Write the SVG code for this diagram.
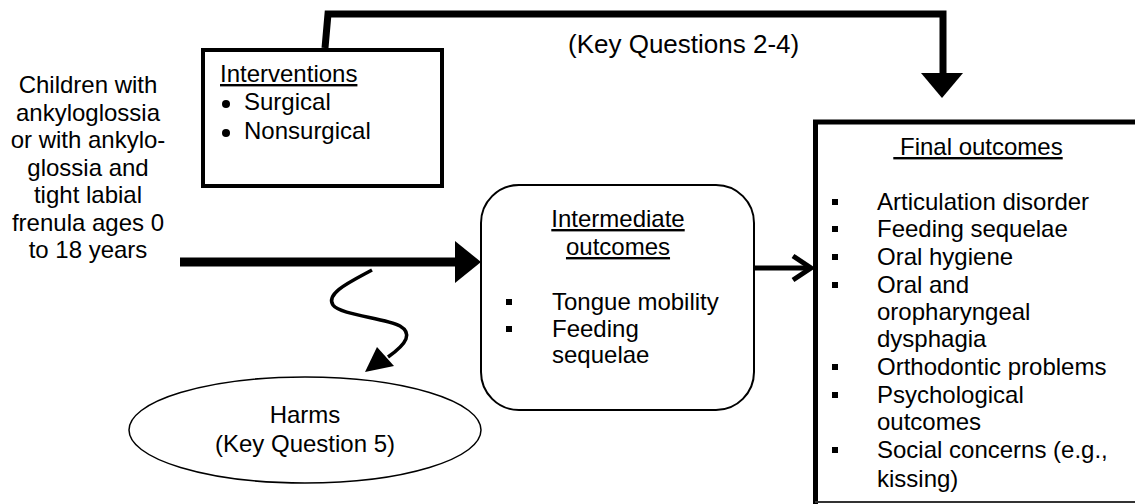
<svg xmlns="http://www.w3.org/2000/svg" width="1135" height="504" viewBox="0 0 1135 504">
<style>
text{font-family:"Liberation Sans",Arial,sans-serif;font-size:24px;fill:#000}
.c{text-anchor:middle}
.u{text-decoration:underline}
.thin{fill:none;stroke:#000;stroke-width:2}
.bul{fill:#000}
</style>
<rect width="1135" height="504" fill="#fff"/>
<g id="population">
<text class="c" x="88" y="93">Children with</text>
<text class="c" x="88" y="121">ankyloglossia</text>
<text class="c" x="88" y="148">or with ankylo-</text>
<text class="c" x="88" y="176">glossia and</text>
<text class="c" x="88" y="203">tight labial</text>
<text class="c" x="88" y="231">frenula ages 0</text>
<text class="c" x="88" y="258">to 18 years</text>
</g>
<g id="interventions">
<rect x="203" y="50" width="239" height="136" fill="#fff" stroke="#000" stroke-width="4"/>
<text class="u" x="220" y="82">Interventions</text>
<circle class="bul" cx="226" cy="104" r="4"/>
<text x="244" y="110">Surgical</text>
<circle class="bul" cx="226" cy="133" r="4"/>
<text x="244" y="139">Nonsurgical</text>
</g>
<g id="intermediate">
<rect x="481" y="185" width="273" height="225" rx="38" ry="38" fill="#fff" stroke="#000" stroke-width="2"/>
<text class="c u" x="618" y="227">Intermediate</text>
<text class="c u" x="618" y="255">outcomes</text>
<rect class="bul" x="506" y="299" width="6" height="6"/>
<text x="552" y="310">Tongue mobility</text>
<rect class="bul" x="506" y="326" width="6" height="6"/>
<text x="552" y="337">Feeding</text>
<text x="552" y="363">sequelae</text>
</g>
<g id="final">
<path d="M815.5,504 L815.5,122 L1140,122" fill="none" stroke="#000" stroke-width="5"/>
<line x1="815" y1="502" x2="1135" y2="502" stroke="#333" stroke-width="2"/>
<text class="c u" x="978" y="155">&#160;Final outcomes</text>
<rect class="bul" x="832" y="199" width="6" height="6"/>
<text x="877" y="210">Articulation disorder</text>
<rect class="bul" x="832" y="226" width="6" height="6"/>
<text x="877" y="237">Feeding sequelae</text>
<rect class="bul" x="832" y="254" width="6" height="6"/>
<text x="877" y="265">Oral hygiene</text>
<rect class="bul" x="832" y="282" width="6" height="6"/>
<text x="877" y="293">Oral and</text>
<text x="877" y="320">oropharyngeal</text>
<text x="877" y="347">dysphagia</text>
<rect class="bul" x="832" y="364" width="6" height="6"/>
<text x="877" y="375">Orthodontic problems</text>
<rect class="bul" x="832" y="392" width="6" height="6"/>
<text x="877" y="403">Psychological</text>
<text x="877" y="430">outcomes</text>
<rect class="bul" x="832" y="447" width="6" height="6"/>
<text x="877" y="458">Social concerns (e.g.,</text>
<text x="877" y="487">kissing)</text>
</g>
<g id="harms">
<ellipse cx="305" cy="430" rx="176" ry="53" fill="#fff" stroke="#000" stroke-width="1.5"/>
<text class="c" x="305" y="423">Harms</text>
<text class="c" x="305" y="452">(Key Question 5)</text>
</g>
<g id="connectors">
<line x1="180" y1="262" x2="457" y2="262" stroke="#000" stroke-width="9"/>
<polygon points="455,241 481,262 455,283" fill="#000"/>
<path d="M325,48 L328,14 L943,14 L943,75" fill="none" stroke="#000" stroke-width="7"/>
<polygon points="921,73 963,73 942,98" fill="#000"/>
<text x="568" y="53" style="font-size:26px">(Key Questions 2-4)</text>
<line x1="754" y1="268" x2="810" y2="268" stroke="#000" stroke-width="5"/>
<polyline points="793,256 811,268 793,280" fill="none" stroke="#000" stroke-width="5" stroke-linejoin="miter"/>
<path d="M372,270 C352,281 325,293 333,305 C340,315 385,318 400,326 C412,333 408,343 388,357" fill="none" stroke="#000" stroke-width="3.5"/>
<polygon points="365,372 377,347 394,366" fill="#000"/>
</g>
</svg>
